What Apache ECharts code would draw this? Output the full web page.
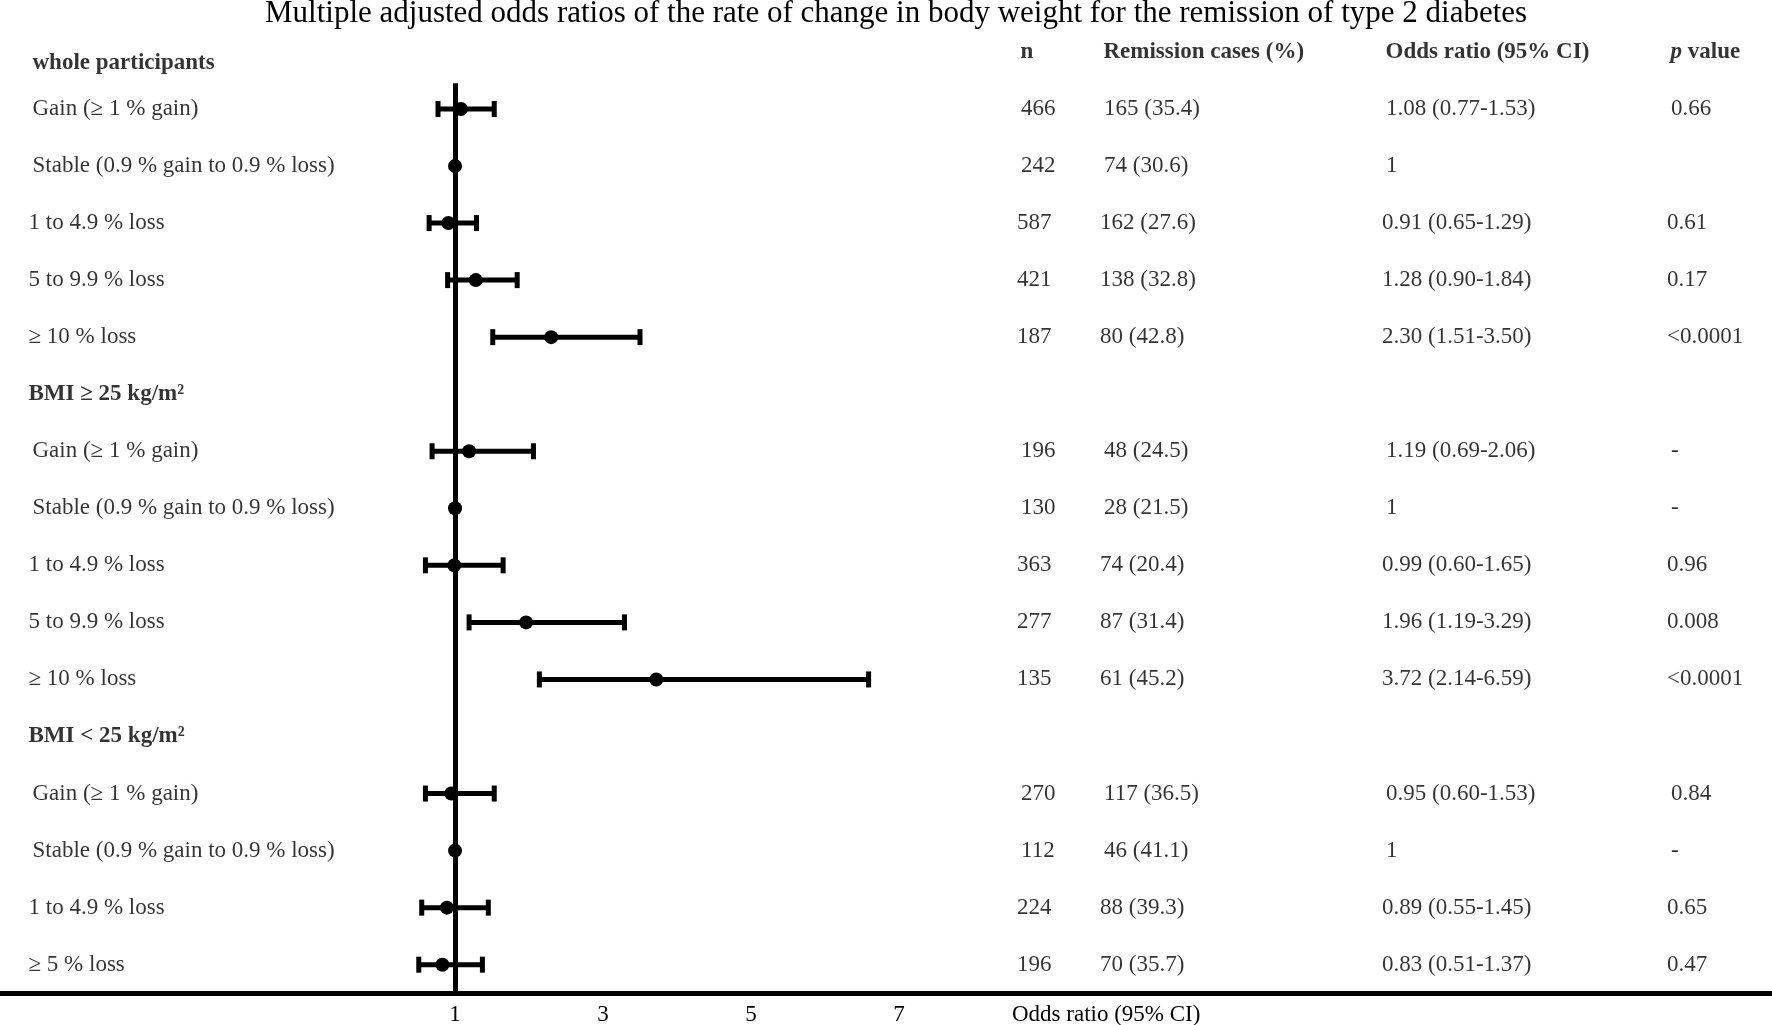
<!DOCTYPE html>
<html>
<head>
<meta charset="utf-8">
<title>Adjusted odds ratios - body weight change and T2D remission</title>
<script src="https://cdn.jsdelivr.net/npm/echarts@6.0.0/dist/echarts.min.js"></script>
<style>
  html, body { margin: 0; padding: 0; background: #fff; }
  #chart { width: 1772px; height: 1025px; }
</style>
</head>
<body>
<div id="chart"></div>
<script>
// one entry per table row, group headers included
const rowLabels = [
  'whole participants',
  'Gain (≥ 1 % gain)', 'Stable (0.9 % gain to 0.9 % loss)', '1 to 4.9 % loss', '5 to 9.9 % loss', '≥ 10 % loss',
  'BMI ≥ 25 kg/m²',
  'Gain (≥ 1 % gain)', 'Stable (0.9 % gain to 0.9 % loss)', '1 to 4.9 % loss', '5 to 9.9 % loss', '≥ 10 % loss',
  'BMI < 25 kg/m²',
  'Gain (≥ 1 % gain)', 'Stable (0.9 % gain to 0.9 % loss)', '1 to 4.9 % loss', '≥ 5 % loss'
];
const groupRows = [0, 6, 12];

const nCounts        = [null, 466, 242, 587, 421, 187, null, 196, 130, 363, 277, 135, null, 270, 112, 224, 196];
const remissionCases = [null, 165, 74, 162, 138, 80, null, 48, 28, 74, 87, 61, null, 117, 46, 88, 70];
const remissionPct   = [null, 35.4, 30.6, 27.6, 32.8, 42.8, null, 24.5, 21.5, 20.4, 31.4, 45.2, null, 36.5, 41.1, 39.3, 35.7];
const oddsRatio      = [null, 1.08, 1, 0.91, 1.28, 2.30, null, 1.19, 1, 0.99, 1.96, 3.72, null, 0.95, 1, 0.89, 0.83];
const ciLower        = [null, 0.77, null, 0.65, 0.90, 1.51, null, 0.69, null, 0.60, 1.19, 2.14, null, 0.60, null, 0.55, 0.51];
const ciUpper        = [null, 1.53, null, 1.29, 1.84, 3.50, null, 2.06, null, 1.65, 3.29, 6.59, null, 1.53, null, 1.45, 1.37];
const pValues        = ['', '0.66', '', '0.61', '0.17', '<0.0001', '', '-', '-', '0.96', '0.008', '<0.0001', '', '0.84', '-', '0.65', '0.47'];

const columnHeaders = ['n', 'Remission cases (%)', 'Odds ratio (95% CI)', '{it|p} value'];
const xTickValues = [1, 3, 5, 7];
const referenceOR = 1;

// layout
const FONT = "'Liberation Serif', 'Times New Roman', serif";
const FS = 23;
const X_MIN = -5.15, X_MAX = 18.8;          // odds ratio axis spans the full width
const COL_X = [28.5, 1017, 1100, 1382, 1667]; // label, n, cases, OR, p (px)

function rowY(i) {
  // first group header sits a bit closer to its first row
  return i === 0 ? 0.2 : i;
}
function indentOf(i) {
  return (i === 0 || /^(Gain|Stable)/.test(rowLabels[i])) ? 4 : 0;
}

function cellText(col, i) {
  if (col === 0) return rowLabels[i];
  if (col === 1) return nCounts[i] == null ? '' : String(nCounts[i]);
  if (col === 2) return remissionCases[i] == null ? '' : remissionCases[i] + ' (' + remissionPct[i].toFixed(1) + ')';
  if (col === 3) {
    if (oddsRatio[i] == null) return '';
    if (ciLower[i] == null) return String(oddsRatio[i]);
    return oddsRatio[i].toFixed(2) + ' (' + ciLower[i].toFixed(2) + '-' + ciUpper[i].toFixed(2) + ')';
  }
  return pValues[i];
}

const textLabel = {
  show: true, position: 'right', distance: 0,
  color: '#000', fontFamily: FONT, fontSize: FS,
  formatter: p => p.data.text,
  rich: { it: { fontStyle: 'italic', fontWeight: 'bold', fontFamily: FONT, fontSize: FS, color: '#000' } }
};

const tableSeries = COL_X.map((x, col) => {
  const data = [];
  rowLabels.forEach((_, i) => {
    const t = cellText(col, i);
    if (t === '') return;
    const bold = col === 0 && groupRows.includes(i);
    data.push({ value: [x + indentOf(i), rowY(i)], text: t, label: bold ? { fontWeight: 'bold' } : undefined });
  });
  if (col > 0) {
    data.push({ value: [x + 3.5, 0], text: columnHeaders[col - 1], label: { fontWeight: 'bold' } });
  }
  return {
    type: 'scatter', xAxisIndex: 1, yAxisIndex: 0,
    symbolSize: 0, silent: true, clip: false,
    label: textLabel, data
  };
});

const forestData = [];
rowLabels.forEach((_, i) => {
  if (oddsRatio[i] == null) return;
  forestData.push([oddsRatio[i], ciLower[i] ?? oddsRatio[i], ciUpper[i] ?? oddsRatio[i], rowY(i)]);
});

const forestSeries = {
  type: 'custom', xAxisIndex: 0, yAxisIndex: 0, silent: true, clip: false,
  encode: { x: [0, 1, 2], y: 3 },
  data: forestData,
  renderItem(params, api) {
    const y = api.value(3);
    const lo = api.value(1), hi = api.value(2);
    const c = api.coord([api.value(0), y]);
    const children = [];
    if (hi > lo) {
      const a = api.coord([lo, y]), b = api.coord([hi, y]);
      children.push({ type: 'line', shape: { x1: a[0], y1: a[1], x2: b[0], y2: b[1] }, style: { stroke: '#000', lineWidth: 5 } });
      [a, b].forEach(p => children.push({ type: 'rect', shape: { x: p[0] - 2.5, y: p[1] - 8, width: 5, height: 16 }, style: { fill: '#000' } }));
    }
    children.push({ type: 'circle', shape: { cx: c[0], cy: c[1], r: 7 }, style: { fill: '#000' } });
    return { type: 'group', children };
  },
  markLine: {
    silent: true, symbol: 'none', animation: false,
    label: { show: false },
    lineStyle: { color: '#000', width: 5, type: 'solid' },
    data: [[{ coord: [referenceOR, 0.55] }, { coord: [referenceOR, rowLabels.length - 0.5] }]]
  }
};

const chart = echarts.init(document.getElementById('chart'), null, { renderer: 'canvas' });
chart.setOption({
  animation: false,
  backgroundColor: '#fff',
  title: {
    text: 'Multiple adjusted odds ratios of the rate of change in body weight for the remission of type 2 diabetes',
    left: 265, top: -2, padding: 0,
    textStyle: { fontFamily: FONT, fontSize: 31, fontWeight: 'normal', color: '#000' }
  },
  grid: { left: 0, right: 0, top: 23.4, bottom: 31.8, outerBoundsMode: 'none' },
  xAxis: [
    {
      type: 'value', min: X_MIN, max: X_MAX, position: 'bottom',
      axisLine: { show: true, onZero: false, lineStyle: { color: '#000', width: 5 } },
      axisTick: { show: false },
      splitLine: { show: false },
      axisLabel: { customValues: xTickValues, color: '#000', fontFamily: FONT, fontSize: FS, margin: 10 }
    },
    { type: 'value', min: 0, max: 1772, show: false }
  ],
  yAxis: { type: 'value', inverse: true, min: -0.5, max: rowLabels.length - 0.5, show: false },
  graphic: [{
    type: 'text', left: 1012, top: 1003,
    style: { text: 'Odds ratio (95% CI)', font: FS + 'px ' + FONT, fill: '#000' }
  }],
  series: [forestSeries, ...tableSeries]
});
</script>
</body>
</html>
